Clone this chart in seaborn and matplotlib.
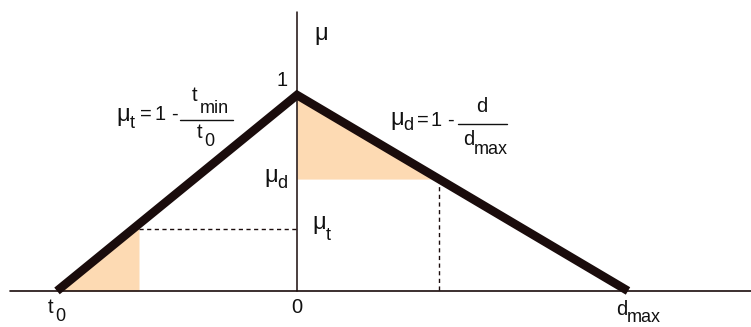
import matplotlib
matplotlib.use("Agg")
import matplotlib.pyplot as plt
import seaborn as sns
import pandas as pd

# key points of the membership diagram (x: time / distance, y: mu)
tri_x = [-2.40, 0.0, 3.31]
tri_mu = [0.0, 1.0, 0.0]

# left shaded part (time) and its mu level
t_cut = -1.58
mu_t = 0.316
mu_t_line = 0.342

# right shaded part (distance) and its mu level
d_cut = 1.42
mu_d = 0.571

peach = "#FDDAB3"
ink = "#1A0C0C"

sns.set_style("white")
plt.rcParams["font.family"] = ["Liberation Sans", "DejaVu Sans"]

fig = plt.figure(figsize=(7.51, 3.27), dpi=100)
ax = fig.add_axes([0, 0, 1, 1])
ax.set_xlim(-2.97, 4.54)
ax.set_ylim(-0.184, 1.485)
ax.axis("off")

# shaded areas
ax.fill_between([tri_x[0], t_cut], [0, 0], [0, mu_t_line], color=peach, lw=0)
ax.fill_between([0, d_cut], [mu_d, mu_d], [1.0, mu_d], color=peach, lw=0)

# axes lines
ax.plot([-2.87, 4.54], [0, 0], color=ink, lw=1.2)
ax.plot([0, 0], [0, 1.423], color=ink, lw=1.1)

# dashed guides
ax.plot([t_cut, 0], [mu_t, mu_t], color=ink, lw=1.0, ls=(0, (3, 2.5)))
ax.plot([d_cut, d_cut], [mu_d, -0.01], color=ink, lw=1.0, ls=(0, (3, 2.5)))

# membership triangle
df = pd.DataFrame({"x": tri_x, "mu": tri_mu})
sns.lineplot(data=df, x="x", y="mu", ax=ax, color=ink, lw=6.2, sort=False,
             solid_capstyle="butt", solid_joinstyle="miter")

MAIN, SUB, MU = 14.5, 13, 17


def label(x, y, s, size=MAIN, ha="left"):
    ax.text(x, y, s, fontsize=size, ha=ha, va="baseline", color="#111111")


# axis labels
label(0.17, 1.281, "μ", MU)
label(-0.15, 1.046, "1", ha="center")
label(0.0, -0.115, "0", ha="center")
label(-2.49, -0.115, "t")
label(-2.42, -0.155, "0", SUB)
label(3.19, -0.122, "d")
label(3.30, -0.158, "max", SUB)
label(-0.33, 0.556, "μ", MU)
label(-0.20, 0.526, "d", SUB)
label(0.15, 0.316, "μ", MU)
label(0.29, 0.260, "t", SUB)

# mu_t = 1 - t_min / t_0
label(-1.81, 0.867, "μ", MU)
label(-1.67, 0.832, "t", SUB)
label(-1.57, 0.872, "=")
label(-1.43, 0.872, "1")
label(-1.26, 0.872, "-")
ax.plot([-1.17, -0.64], [0.872, 0.872], color="#111111", lw=1.0)
label(-1.05, 0.969, "t")
label(-0.97, 0.908, "min", SUB)
label(-1.00, 0.781, "t")
label(-0.93, 0.740, "0", SUB)

# mu_d = 1 - d / d_max
label(0.93, 0.847, "μ", MU)
label(1.06, 0.821, "d", SUB)
label(1.20, 0.842, "=")
label(1.34, 0.842, "1")
label(1.50, 0.842, "-")
ax.plot([1.61, 2.10], [0.852, 0.852], color="#111111", lw=1.0)
label(1.79, 0.913, "d")
label(1.66, 0.745, "d")
label(1.77, 0.699, "max", SUB)

fig.savefig("out.png", dpi=100)
